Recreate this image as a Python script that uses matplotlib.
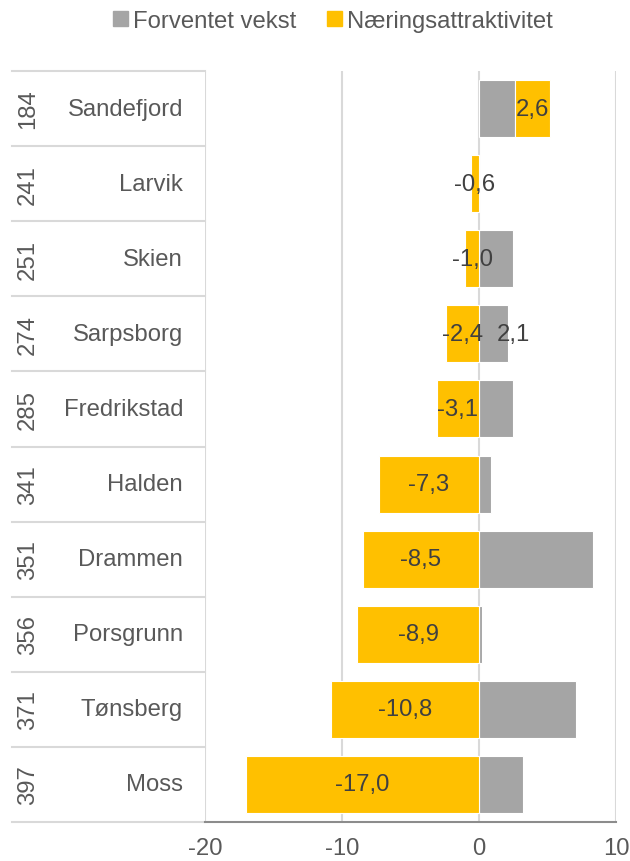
import matplotlib
matplotlib.use("Agg")
import matplotlib.pyplot as plt
import numpy as np
from matplotlib.patches import Patch

plt.rcParams["font.family"] = ["Liberation Sans", "DejaVu Sans"]

# data, top to bottom
kommuner = ["Sandefjord", "Larvik", "Skien", "Sarpsborg", "Fredrikstad",
            "Halden", "Drammen", "Porsgrunn", "Tønsberg", "Moss"]
rangering = ["184", "241", "251", "274", "285", "341", "351", "356", "371", "397"]
forventet_vekst = [2.6, 0.0, 2.5, 2.1, 2.5, 0.9, 8.3, 0.2, 7.1, 3.2]
naeringsattraktivitet = [2.6, -0.6, -1.0, -2.4, -3.1, -7.3, -8.5, -8.9, -10.8, -17.0]
x_ticks = [-20, -10, 0, 10]

GRAY = "#A5A5A5"
YELLOW = "#FFC000"
GRID = "#D9D9D9"
TXT = "#404040"
LBL = "#595959"
FS = 17.2

W, H = 630, 862
fig = plt.figure(figsize=(W / 100, H / 100), dpi=100)
left, right, top, bottom = 205, 616, 72, 823
ax = fig.add_axes([left / W, (H - bottom) / H, (right - left) / W, (bottom - top) / H])

y = np.arange(len(kommuner))
gray = np.array(forventet_vekst)
yel = np.array(naeringsattraktivitet)
yel_left = np.where(yel > 0, gray, 0)

ax.barh(y, gray, height=0.76, color=GRAY, edgecolor="white", linewidth=0.8, zorder=3)
bars = ax.barh(y, yel, left=yel_left, height=0.76, color=YELLOW,
               edgecolor="white", linewidth=0.8, zorder=3)

for rect, v in zip(bars, yel):
    cx = rect.get_x() + rect.get_width() / 2
    cy = rect.get_y() + rect.get_height() / 2
    ax.text(cx, cy, f"{v:.1f}".replace(".", ","), ha="center", va="center",
            fontsize=FS, color=TXT, zorder=4)

# the one grey-bar label in the original (Sarpsborg)
i = kommuner.index("Sarpsborg")
ax.annotate(f"{gray[i]:.1f}".replace(".", ","), xy=(gray[i], y[i]), xytext=(4, 0),
            textcoords="offset points", ha="center", va="center",
            fontsize=FS, color=TXT, zorder=4)

ax.set_xlim(-20, 10)
ax.set_ylim(len(kommuner) - 0.5, -0.5)
ax.set_xticks(x_ticks)
ax.set_xticklabels([str(t) for t in x_ticks], fontsize=FS, color=LBL)
ax.tick_params(axis="x", length=0, pad=11)
ax.set_yticks([])
for t in x_ticks:
    ax.axvline(t, color=GRID, linewidth=1.5, zorder=1)
for s in ["top", "right", "left"]:
    ax.spines[s].set_visible(False)
ax.spines["bottom"].set_color("#8C8C8C")
ax.spines["bottom"].set_linewidth(1.5)
ax.spines["bottom"].set_zorder(5)

# category table on the left
trans = ax.get_yaxis_transform()
x0 = (12 - left) / (right - left)
for b in np.arange(len(kommuner) + 1) - 0.5:
    ax.plot([x0, 0], [b, b], transform=trans, color=GRID, linewidth=1.5, clip_on=False)
x_rank = (28 - left) / (right - left)
x_name = (183 - left) / (right - left)
for yi, navn, r in zip(y, kommuner, rangering):
    ax.text(x_name, yi, navn, transform=trans, ha="right", va="center",
            fontsize=FS, color=LBL)
    ax.text(x_rank, yi, r, transform=trans, ha="center", va="center",
            rotation=90, fontsize=FS, color=LBL)

handles = [Patch(color=GRAY, label="Forventet vekst"),
           Patch(color=YELLOW, label="Næringsattraktivitet")]
fig.legend(handles=handles, loc="upper center", bbox_to_anchor=(333 / W, 1.012),
           ncol=2, frameon=False, fontsize=FS, labelcolor=LBL,
           handlelength=0.62, handleheight=0.62, handletextpad=0.2,
           columnspacing=1.3)

fig.savefig("out.png", dpi=100)
